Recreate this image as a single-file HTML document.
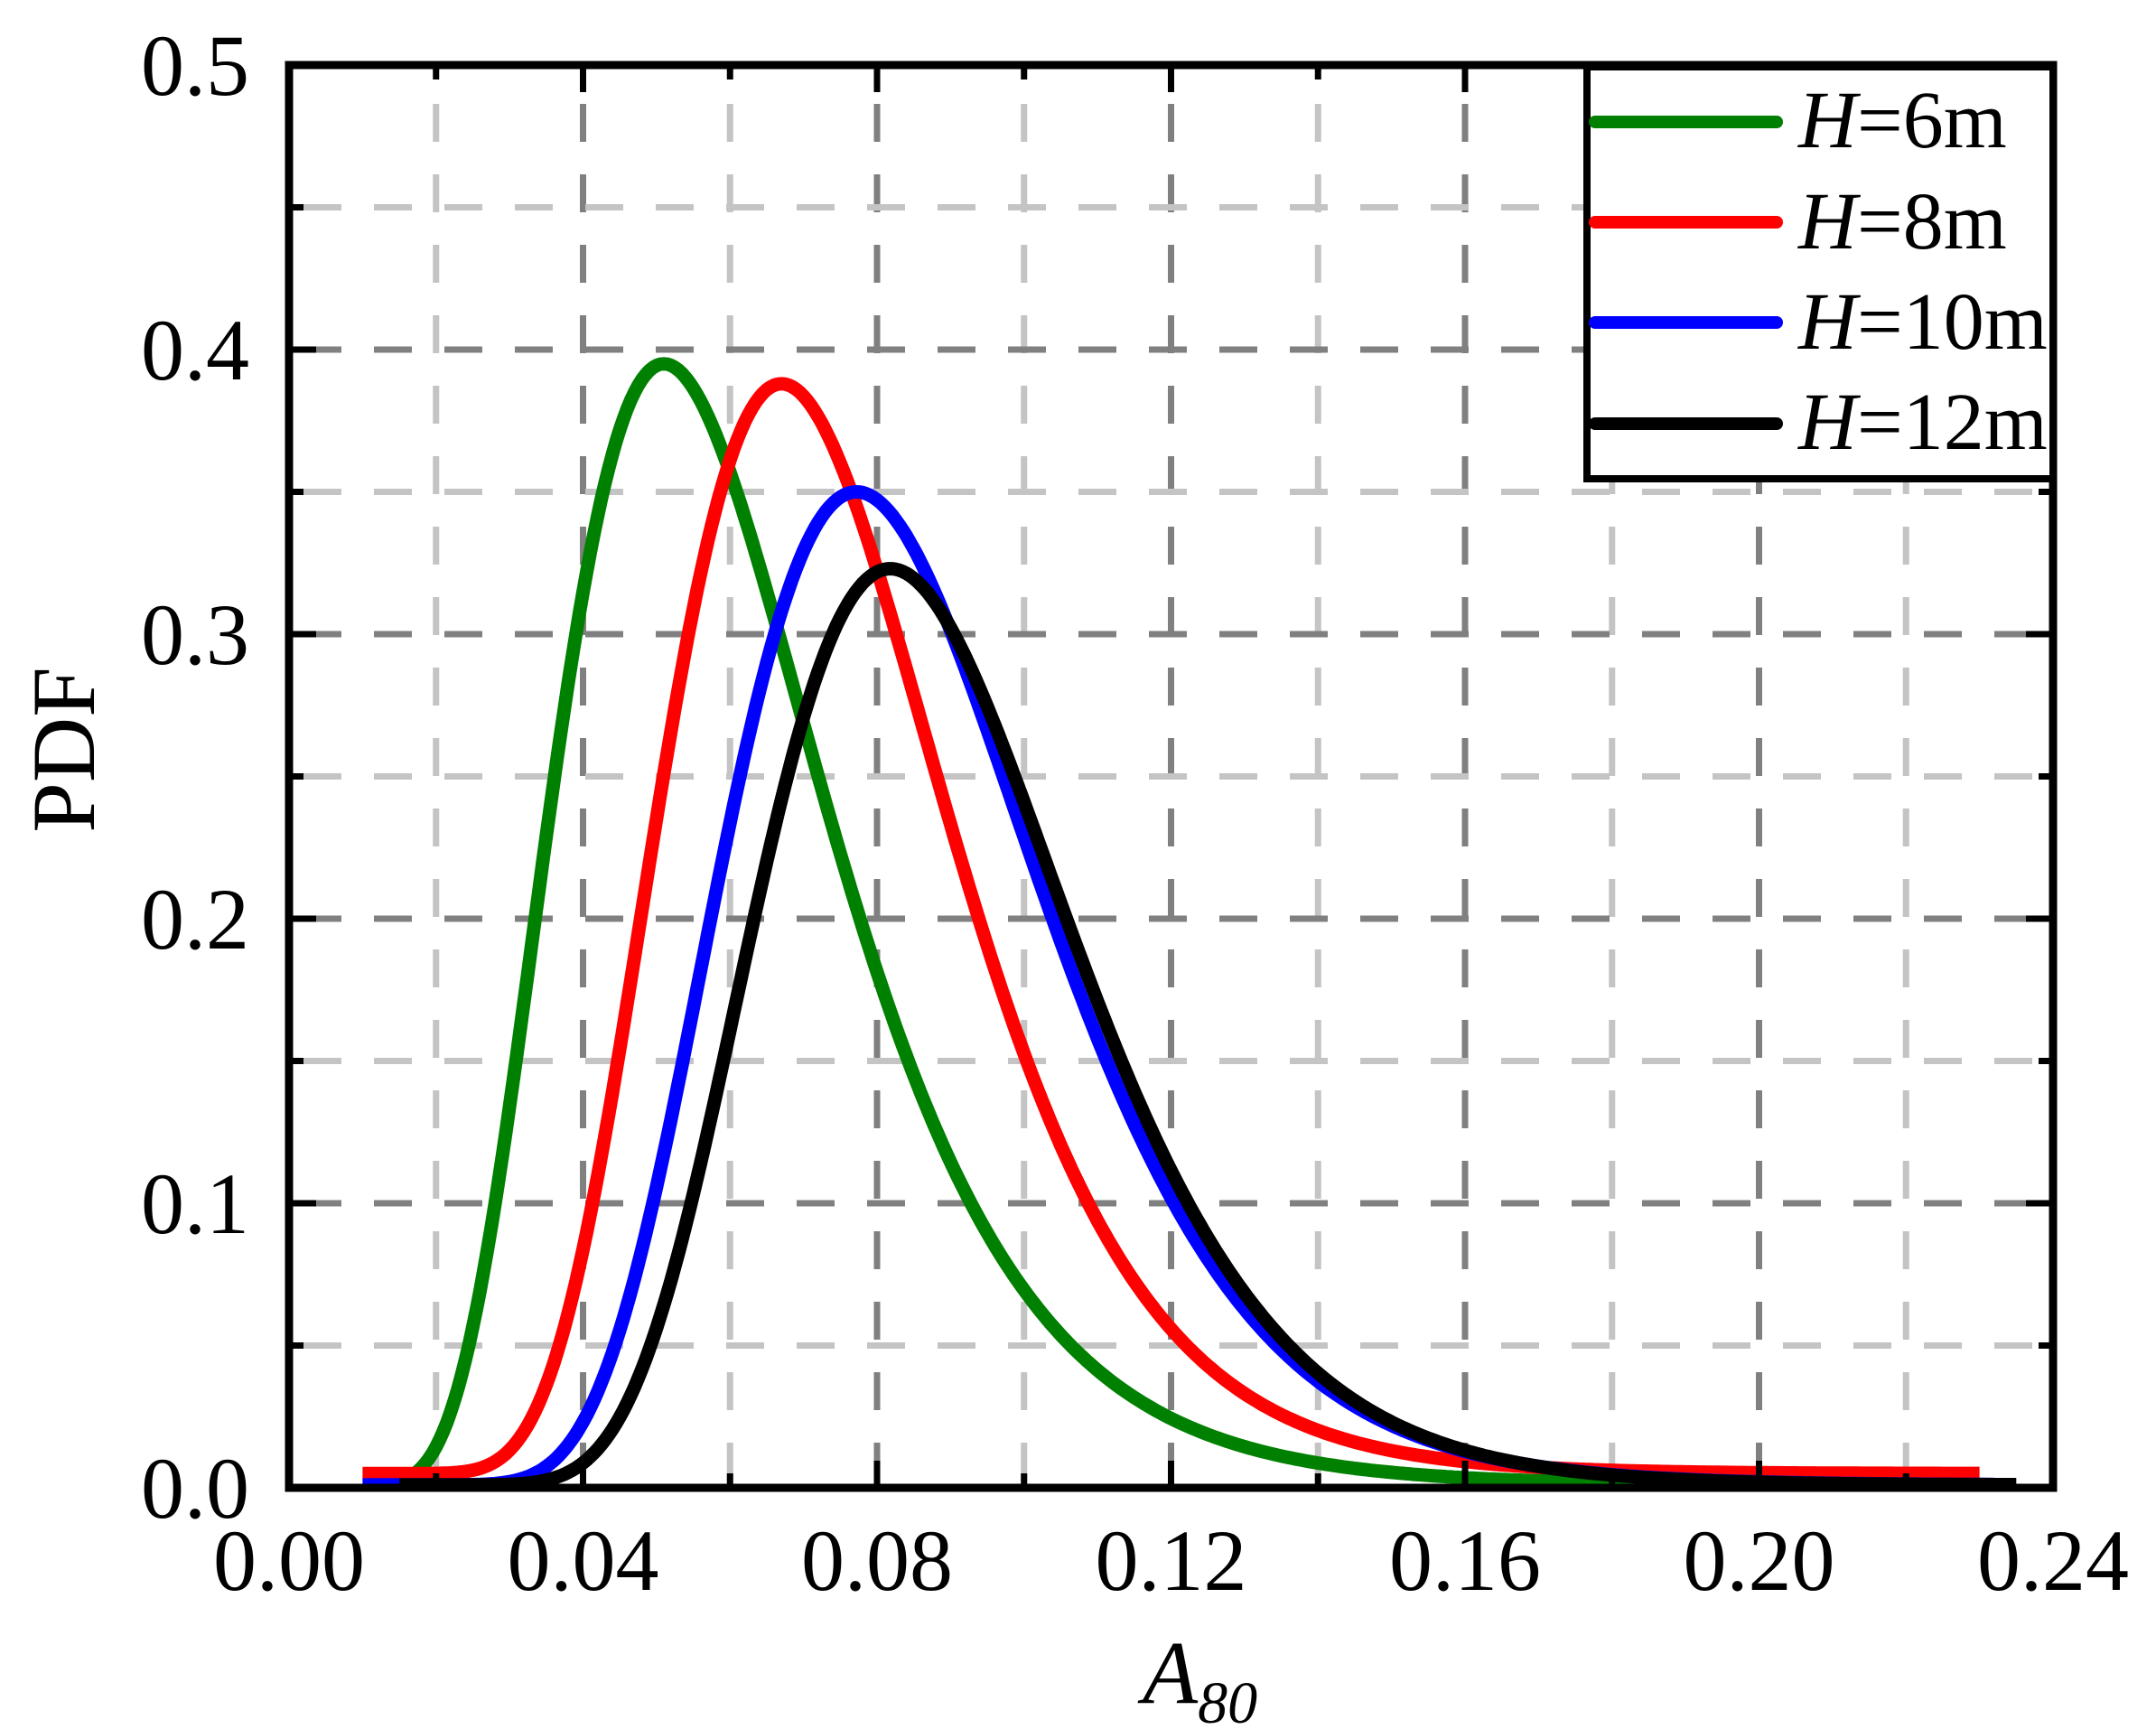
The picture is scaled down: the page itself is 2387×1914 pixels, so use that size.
<!DOCTYPE html>
<html><head><meta charset="utf-8"><style>
html,body{margin:0;padding:0;background:#fff;}
svg{display:block;}
text{font-family:"Liberation Serif","Times New Roman",serif;fill:#000;}
</style></head><body>
<svg id="s" width="2387" height="1914" viewBox="0 0 2387 1914" xmlns="http://www.w3.org/2000/svg">
<rect width="2387" height="1914" fill="#fff"/>
<g id="grid"></g>
<g id="curves" fill="none" stroke-width="15" stroke-linejoin="round"></g>
<g id="ticks" stroke="#000" stroke-width="7"></g>
<rect x="320" y="72" width="1953" height="1575" fill="none" stroke="#000" stroke-width="9"/>
<!-- legend -->
<rect x="1757" y="74" width="516" height="456" fill="#fff" stroke="#000" stroke-width="8"/>
<g stroke-width="14" stroke-linecap="round">
<line x1="1766" y1="135" x2="1967" y2="135" stroke="#008000"/>
<line x1="1766" y1="246" x2="1967" y2="246" stroke="#ff0000"/>
<line x1="1766" y1="357" x2="1967" y2="357" stroke="#0000ff"/>
<line x1="1766" y1="469" x2="1967" y2="469" stroke="#000000"/>
</g>
<g font-size="90">
<text x="1991" y="163"><tspan font-style="italic">H</tspan>=6m</text>
<text x="1991" y="275"><tspan font-style="italic">H</tspan>=8m</text>
<text x="1991" y="386"><tspan font-style="italic">H</tspan>=10m</text>
<text x="1991" y="497"><tspan font-style="italic">H</tspan>=12m</text>
</g>
<g id="labels" font-size="96"></g>
<text transform="translate(104,830) rotate(-90)" font-size="100" text-anchor="middle">PDF</text>
<text x="1265" y="1885" font-size="100" font-style="italic">A<tspan font-size="66" dy="22">80</tspan></text>
</svg>
<script>
var NS="http://www.w3.org/2000/svg";
function X(v){return 320+v*8137.5;}
function Y(v){return 1647-v*3150;}
function el(p,t,a){var e=document.createElementNS(NS,t);for(var k in a)e.setAttribute(k,a[k]);p.appendChild(e);return e;}
var g=document.getElementById('grid');
for(var i=1;i<12;i++){var x=X(i*0.02);var major=(i%2==0);
 el(g,'line',{x1:x,y1:1643,x2:x,y2:76,stroke:major?'#808080':'#c4c4c4','stroke-width':7,'stroke-dasharray':'42 36','stroke-dashoffset':'-4'});}
for(var j=1;j<10;j++){var y=Y(j*0.05);var major=(j%2==0);
 el(g,'line',{x1:324,y1:y,x2:2269,y2:y,stroke:major?'#808080':'#c4c4c4','stroke-width':7,'stroke-dasharray':'42 36','stroke-dashoffset':'-12'});}
var t=document.getElementById('ticks');
for(var i=1;i<12;i++){var x=X(i*0.02);var L=(i%2==0)?30:16;
 el(t,'line',{x1:x,y1:1647,x2:x,y2:1647-L});el(t,'line',{x1:x,y1:72,x2:x,y2:72+L});}
for(var j=1;j<10;j++){var y=Y(j*0.05);var L=(j%2==0)?30:16;
 el(t,'line',{x1:320,y1:y,x2:320+L,y2:y});el(t,'line',{x1:2273,y1:y,x2:2273-L,y2:y});}
var lb=document.getElementById('labels');
var yl=['0.0','0.1','0.2','0.3','0.4','0.5'];
for(var j=0;j<6;j++){var e=el(lb,'text',{x:276,y:Y(j*0.1)+33,'text-anchor':'end'});e.textContent=yl[j];}
var xl=['0.00','0.04','0.08','0.12','0.16','0.20','0.24'];
for(var i=0;i<7;i++){var e=el(lb,'text',{x:X(i*0.04),y:1760,'text-anchor':'middle'});e.textContent=xl[i];}
var C=document.getElementById('curves');
var S=[['#008000',0.051,0.395,0.36,0.001,0.015,0.23],
       ['#ff0000',0.067,0.388,0.29,0.005,0.010,0.23],
       ['#0000ff',0.0772,0.350,0.28,0.001,0.010,0.232],
       ['#000000',0.0818,0.323,0.262,0.001,0.015,0.235]];
S.forEach(function(s){var d='';
 for(var x=s[5];x<=s[6]+1e-9;x+=0.0005){var l=Math.log(x/s[1]);
  var v=(s[2]-s[4])*Math.exp(-l*l/(2*s[3]*s[3]))+s[4];
  d+=(d?'L':'M')+X(x).toFixed(1)+' '+Y(v).toFixed(1);}
 el(C,'path',{d:d,stroke:s[0]});});
</script>
</body></html>
